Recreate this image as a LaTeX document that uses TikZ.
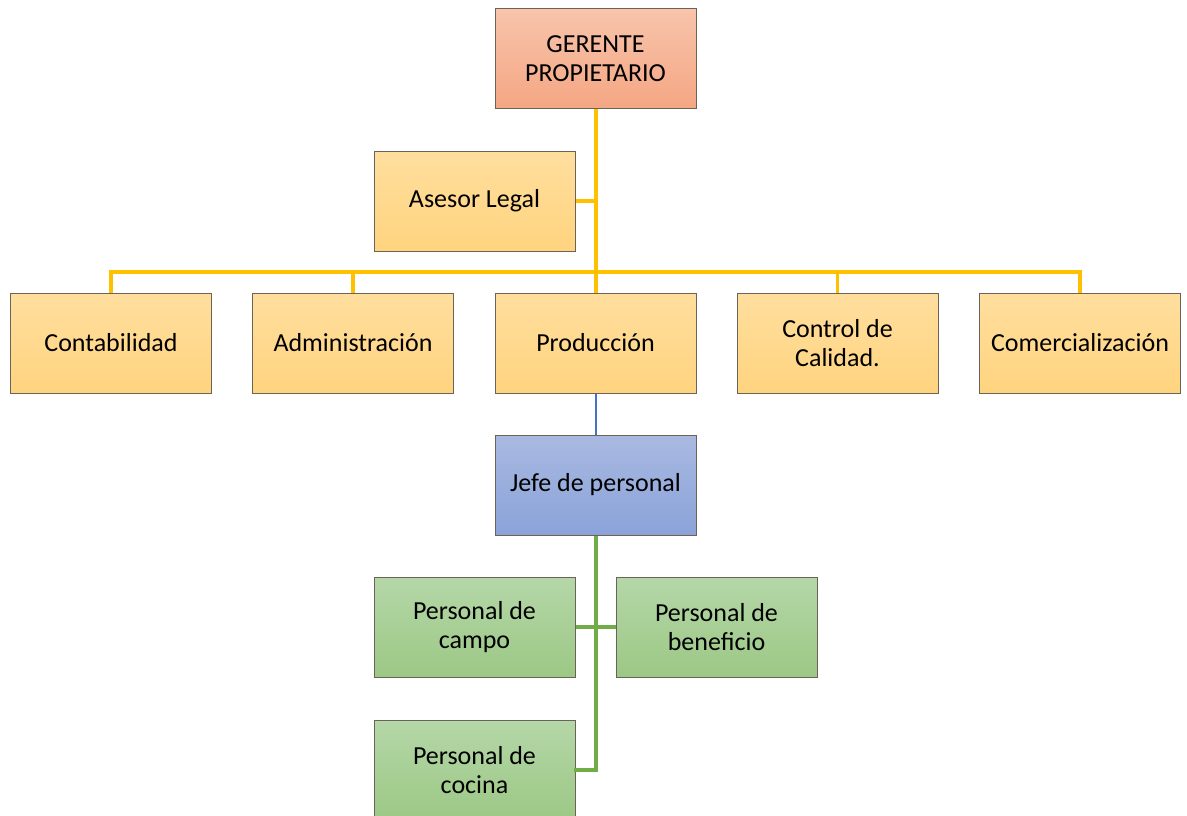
\documentclass[tikz,border=0pt]{standalone}
\usepackage{fontspec}
\setmainfont{Carlito}
\definecolor{bordc}{HTML}{6B6355}
\definecolor{orT}{HTML}{F8C4AB}
\definecolor{orB}{HTML}{F4A683}
\definecolor{yeT}{HTML}{FFDE9E}
\definecolor{yeB}{HTML}{FFD47F}
\definecolor{blT}{HTML}{A9B9E1}
\definecolor{blB}{HTML}{8AA3D9}
\definecolor{grT}{HTML}{B5D7A8}
\definecolor{grB}{HTML}{9CC885}
\definecolor{lnY}{HTML}{FFC000}
\definecolor{lnB}{HTML}{4472C4}
\definecolor{lnG}{HTML}{70AD47}
\tikzset{
  box/.style={draw=bordc, line width=1pt, minimum width=201pt, minimum height=100pt,
    inner sep=0pt, align=center, font=\fontsize{26}{29}\selectfont, text=black},
  orbox/.style={box, top color=orT, bottom color=orB},
  yebox/.style={box, top color=yeT, bottom color=yeB},
  blbox/.style={box, top color=blT, bottom color=blB},
  grbox/.style={box, top color=grT, bottom color=grB},
  yl/.style={draw=lnY, line width=3.2pt},
  bl/.style={draw=lnB, line width=2.4pt},
  gl/.style={draw=lnG, line width=3.2pt}
}
\begin{document}
\begin{tikzpicture}[x=1pt,y=-1pt]
\useasboundingbox (0,0) rectangle (1187,816);
\clip (0,0) rectangle (1187,816);
\coordinate (hub) at (596,272);
\coordinate (hl) at (111,272);
\coordinate (hr) at (1080,272);
\coordinate (ga) at (596,201);
\coordinate (gc) at (596,770);
\node[orbox] (ger) at (595.5,59) {GERENTE\\PROPIETARIO};
\node[yebox] (ase) at (474.5,201) {Asesor Legal};
\node[yebox] (con) at (111,343) {Contabilidad};
\node[yebox] (adm) at (353,343) {Administración};
\node[yebox] (pro) at (595.5,343) {Producción};
\node[yebox] (cal) at (837.5,343) {Control de\\Calidad.};
\node[yebox] (com) at (1080,343) {Comercialización};
\node[blbox] (jef) at (595.5,485) {Jefe de personal};
\node[grbox] (cam) at (474.5,627) {Personal de\\campo};
\node[grbox] (ben) at (716.5,627) {Personal de\\beneficio};
\node[grbox] (coc) at (474.5,770) {Personal de\\cocina};
\draw[yl] (ger.south -| hub) -- (hub);
\draw[yl] (ase.east) -- (ga);
\draw[yl, line cap=rect] (hl) -- (hr);
\draw[yl] (hl) -- (con.north);
\draw[yl] (adm.north) -- (adm.north |- hub);
\draw[yl] (pro.north -| hub) -- (hub);
\draw[yl] (cal.north) -- (cal.north |- hub);
\draw[yl] (hr) -- (com.north);
\draw[bl] (pro.south -| hub) -- (jef.north -| hub);
\draw[gl] (jef.south -| gc) -- (gc);
\draw[gl] (cam.east) -- (ben.west);
\draw[gl, line cap=rect] (coc.east) -- (gc);
\end{tikzpicture}
\end{document}
